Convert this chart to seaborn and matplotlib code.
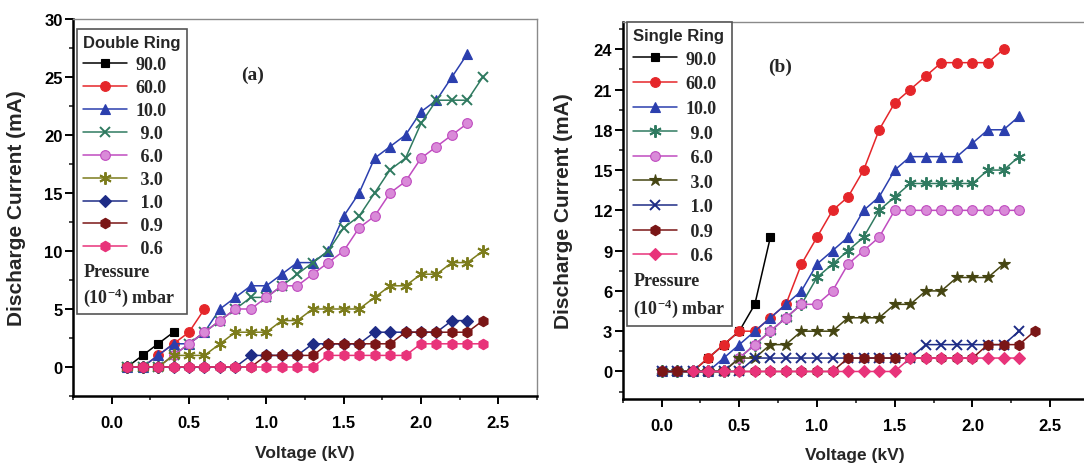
import matplotlib
matplotlib.use("Agg")
import matplotlib.pyplot as plt
import seaborn as sns
from matplotlib.lines import Line2D
from matplotlib.ticker import MultipleLocator

# ---------------- data: panel (a) Double Ring ----------------
A_V90 = [0.1, 0.2, 0.3, 0.4]
A_I90 = [0, 1, 2, 3]
A_V60 = [0.1, 0.2, 0.3, 0.4, 0.5, 0.6]
A_I60 = [0, 0, 1, 2, 3, 5]
A_V10 = [0.1, 0.2, 0.3, 0.4, 0.5, 0.6, 0.7, 0.8, 0.9, 1.0, 1.1, 1.2, 1.3, 1.4, 1.5, 1.6, 1.7, 1.8, 1.9, 2.0, 2.1, 2.2, 2.3]
A_I10 = [0, 0, 1, 2, 2, 3, 5, 6, 7, 7, 8, 9, 9, 10, 13, 15, 18, 19, 20, 22, 23, 25, 27]
A_V9 = [0.1, 0.2, 0.3, 0.4, 0.5, 0.6, 0.7, 0.8, 0.9, 1.0, 1.1, 1.2, 1.3, 1.4, 1.5, 1.6, 1.7, 1.8, 1.9, 2.0, 2.1, 2.2, 2.3, 2.4]
A_I9 = [0, 0, 0, 1, 2, 3, 4, 5, 6, 6, 7, 8, 9, 10, 12, 13, 15, 17, 18, 21, 23, 23, 23, 25]
A_V6 = [0.1, 0.2, 0.3, 0.4, 0.5, 0.6, 0.7, 0.8, 0.9, 1.0, 1.1, 1.2, 1.3, 1.4, 1.5, 1.6, 1.7, 1.8, 1.9, 2.0, 2.1, 2.2, 2.3]
A_I6 = [0, 0, 0, 1, 2, 3, 4, 5, 5, 6, 7, 7, 8, 9, 10, 12, 13, 15, 16, 18, 19, 20, 21]
A_V3 = [0.1, 0.2, 0.3, 0.4, 0.5, 0.6, 0.7, 0.8, 0.9, 1.0, 1.1, 1.2, 1.3, 1.4, 1.5, 1.6, 1.7, 1.8, 1.9, 2.0, 2.1, 2.2, 2.3, 2.4]
A_I3 = [0, 0, 0, 1, 1, 1, 2, 3, 3, 3, 4, 4, 5, 5, 5, 5, 6, 7, 7, 8, 8, 9, 9, 10]
A_V1 = [0.1, 0.2, 0.3, 0.4, 0.5, 0.6, 0.7, 0.8, 0.9, 1.0, 1.1, 1.2, 1.3, 1.4, 1.5, 1.6, 1.7, 1.8, 1.9, 2.0, 2.1, 2.2, 2.3]
A_I1 = [0, 0, 0, 0, 0, 0, 0, 0, 1, 1, 1, 1, 2, 2, 2, 2, 3, 3, 3, 3, 3, 4, 4]
A_V09 = [0.1, 0.2, 0.3, 0.4, 0.5, 0.6, 0.7, 0.8, 0.9, 1.0, 1.1, 1.2, 1.3, 1.4, 1.5, 1.6, 1.7, 1.8, 1.9, 2.0, 2.1, 2.2, 2.3, 2.4]
A_I09 = [0, 0, 0, 0, 0, 0, 0, 0, 0, 1, 1, 1, 1, 2, 2, 2, 2, 2, 3, 3, 3, 3, 3, 4]
A_V06 = [0.1, 0.2, 0.3, 0.4, 0.5, 0.6, 0.7, 0.8, 0.9, 1.0, 1.1, 1.2, 1.3, 1.4, 1.5, 1.6, 1.7, 1.8, 1.9, 2.0, 2.1, 2.2, 2.3, 2.4]
A_I06 = [0, 0, 0, 0, 0, 0, 0, 0, 0, 0, 0, 0, 0, 1, 1, 1, 1, 1, 1, 2, 2, 2, 2, 2]

# ---------------- data: panel (b) Single Ring ----------------
B_V90 = [0.0, 0.1, 0.2, 0.3, 0.4, 0.5, 0.6, 0.7]
B_I90 = [0, 0, 0, 1, 2, 3, 5, 10]
B_V60 = [0.0, 0.1, 0.2, 0.3, 0.4, 0.5, 0.6, 0.7, 0.8, 0.9, 1.0, 1.1, 1.2, 1.3, 1.4, 1.5, 1.6, 1.7, 1.8, 1.9, 2.0, 2.1, 2.2]
B_I60 = [0, 0, 0, 1, 2, 3, 3, 4, 5, 8, 10, 12, 13, 15, 18, 20, 21, 22, 23, 23, 23, 23, 24]
B_V10 = [0.0, 0.1, 0.2, 0.3, 0.4, 0.5, 0.6, 0.7, 0.8, 0.9, 1.0, 1.1, 1.2, 1.3, 1.4, 1.5, 1.6, 1.7, 1.8, 1.9, 2.0, 2.1, 2.2, 2.3]
B_I10 = [0, 0, 0, 0, 1, 2, 3, 4, 5, 6, 8, 9, 10, 12, 13, 15, 16, 16, 16, 16, 17, 18, 18, 19]
B_V9 = [0.0, 0.1, 0.2, 0.3, 0.4, 0.5, 0.6, 0.7, 0.8, 0.9, 1.0, 1.1, 1.2, 1.3, 1.4, 1.5, 1.6, 1.7, 1.8, 1.9, 2.0, 2.1, 2.2, 2.3]
B_I9 = [0, 0, 0, 0, 0, 1, 2, 3, 4, 5, 7, 8, 9, 10, 12, 13, 14, 14, 14, 14, 14, 15, 15, 16]
B_V6 = [0.0, 0.1, 0.2, 0.3, 0.4, 0.5, 0.6, 0.7, 0.8, 0.9, 1.0, 1.1, 1.2, 1.3, 1.4, 1.5, 1.6, 1.7, 1.8, 1.9, 2.0, 2.1, 2.2, 2.3]
B_I6 = [0, 0, 0, 0, 0, 1, 2, 3, 4, 5, 5, 6, 8, 9, 10, 12, 12, 12, 12, 12, 12, 12, 12, 12]
B_V3 = [0.0, 0.1, 0.2, 0.3, 0.4, 0.5, 0.6, 0.7, 0.8, 0.9, 1.0, 1.1, 1.2, 1.3, 1.4, 1.5, 1.6, 1.7, 1.8, 1.9, 2.0, 2.1, 2.2]
B_I3 = [0, 0, 0, 0, 0, 1, 1, 2, 2, 3, 3, 3, 4, 4, 4, 5, 5, 6, 6, 7, 7, 7, 8]
B_V1 = [0.0, 0.1, 0.2, 0.3, 0.4, 0.5, 0.6, 0.7, 0.8, 0.9, 1.0, 1.1, 1.2, 1.3, 1.4, 1.5, 1.6, 1.7, 1.8, 1.9, 2.0, 2.1, 2.2, 2.3]
B_I1 = [0, 0, 0, 0, 0, 0, 1, 1, 1, 1, 1, 1, 1, 1, 1, 1, 1, 2, 2, 2, 2, 2, 2, 3]
B_V09 = [0.0, 0.1, 0.2, 0.3, 0.4, 0.5, 0.6, 0.7, 0.8, 0.9, 1.0, 1.1, 1.2, 1.3, 1.4, 1.5, 1.6, 1.7, 1.8, 1.9, 2.0, 2.1, 2.2, 2.3, 2.4]
B_I09 = [0, 0, 0, 0, 0, 0, 0, 0, 0, 0, 0, 0, 1, 1, 1, 1, 1, 1, 1, 1, 1, 2, 2, 2, 3]
B_V06 = [0.2, 0.3, 0.4, 0.5, 0.6, 0.7, 0.8, 0.9, 1.0, 1.1, 1.2, 1.3, 1.4, 1.5, 1.6, 1.7, 1.8, 1.9, 2.0, 2.1, 2.2, 2.3]
B_I06 = [0, 0, 0, 0, 0, 0, 0, 0, 0, 0, 0, 0, 0, 0, 1, 1, 1, 1, 1, 1, 1, 1]

PRESSURE_LABELS = ["90.0", "60.0", "10.0", " 9.0", " 6.0", " 3.0", " 1.0", " 0.9", " 0.6"]
X_TICKS = [0.0, 0.5, 1.0, 1.5, 2.0, 2.5]
A_Y_TICKS = [0, 5, 10, 15, 20, 25, 30]
B_Y_TICKS = [0, 3, 6, 9, 12, 15, 18, 21, 24]

# ---------------- style ----------------
sns.set_theme(style="ticks")
plt.rcParams.update({
    "font.family": ["Liberation Sans", "DejaVu Sans"],
    "font.weight": "bold",
    "axes.labelweight": "bold",
    "mathtext.default": "regular",
    "axes.facecolor": "white",
    "figure.facecolor": "white",
})

C_BLACK = "#000000"
C_RED = "#e5262a"
C_BLUE = "#2b3fae"
C_TEAL = "#2f7a60"
C_MAG = "#c04cc0"
C_MAG_FACE = "#d98ad8"
C_OLIVE = "#7c7c1c"
C_DOLIVE = "#454512"
C_NAVY = "#1e2c86"
C_DRED = "#7a1616"
C_PINK = "#e8337a"

AST = (6, 2, 0)

specs_a = [
    (A_V90, A_I90, C_BLACK, "s", C_BLACK, 6),
    (A_V60, A_I60, C_RED, "o", C_RED, 7),
    (A_V10, A_I10, C_BLUE, "^", C_BLUE, 7.5),
    (A_V9, A_I9, C_TEAL, "x", C_TEAL, 7.5),
    (A_V6, A_I6, C_MAG, "o", C_MAG_FACE, 7),
    (A_V3, A_I3, C_OLIVE, AST, C_OLIVE, 9),
    (A_V1, A_I1, C_NAVY, "D", C_NAVY, 6),
    (A_V09, A_I09, C_DRED, "h", C_DRED, 7.5),
    (A_V06, A_I06, C_PINK, "h", C_PINK, 7.5),
]
specs_b = [
    (B_V90, B_I90, C_BLACK, "s", C_BLACK, 6),
    (B_V60, B_I60, C_RED, "o", C_RED, 7),
    (B_V10, B_I10, C_BLUE, "^", C_BLUE, 7.5),
    (B_V9, B_I9, C_TEAL, AST, C_TEAL, 9),
    (B_V6, B_I6, C_MAG, "o", C_MAG_FACE, 7),
    (B_V3, B_I3, C_DOLIVE, "*", C_DOLIVE, 9),
    (B_V1, B_I1, C_NAVY, "x", C_NAVY, 7.5),
    (B_V09, B_I09, C_DRED, "h", C_DRED, 7.5),
    (B_V06, B_I06, C_PINK, "D", C_PINK, 6),
]

fig = plt.figure(figsize=(10.84, 4.64), dpi=100)
axA = fig.add_axes([73 / 1084, 1 - 397 / 464, 464 / 1084, 377 / 464])
axB = fig.add_axes([622.7 / 1084, 1 - 400 / 464, 466.3 / 1084, 377.3 / 464])

SERIF = ["Liberation Serif", "DejaVu Serif"]
SANS = ["Liberation Sans", "DejaVu Sans"]


def draw_panel(ax, specs, title, tag, ylim, yticks, yminor, leg_anchor, tag_pos, lspace, bpad):
    handles = []
    for (V, I, c, m, mfc, ms) in specs:
        mew = 1.4 if m in ("x", AST) else 0.8
        sns.lineplot(x=V, y=I, ax=ax, color=c, marker=m, markersize=ms,
                     markerfacecolor=mfc, markeredgecolor=c, markeredgewidth=mew,
                     linewidth=1.1, legend=False, estimator=None, sort=False)
        handles.append(Line2D([], [], color=c, marker=m, markersize=ms,
                              markerfacecolor=mfc, markeredgecolor=c,
                              markeredgewidth=mew, linewidth=1.1))
    labels = list(PRESSURE_LABELS)
    handles += [Line2D([], [], linestyle="none"), Line2D([], [], linestyle="none")]
    labels += ["Pressure", "(10$^{-4}$) mbar"]

    ax.set_xlim(-0.25, 2.75)
    ax.set_ylim(*ylim)
    ax.set_xticks(X_TICKS)
    ax.set_yticks(yticks)
    ax.xaxis.set_minor_locator(MultipleLocator(0.25))
    ax.yaxis.set_minor_locator(MultipleLocator(yminor))
    ax.tick_params(which="major", direction="out", length=5.5, width=1.4,
                   labelsize=12, colors="black")
    ax.tick_params(which="minor", direction="out", length=3, width=1.2)
    ax.tick_params(axis="x", which="major", pad=8)
    ax.tick_params(axis="y", which="major", pad=2)
    for lab in ax.get_xticklabels() + ax.get_yticklabels():
        lab.set_fontweight("bold")
    for s in ("left", "bottom"):
        ax.spines[s].set_linewidth(1.8)
        ax.spines[s].set_color("black")
    for s in ("top", "right"):
        ax.spines[s].set_linewidth(1.0)
        ax.spines[s].set_color("#8a8a8a")
    ax.grid(False)

    ax.set_xlabel("Voltage (kV)", fontsize=12.5, fontweight="bold")
    ax.set_ylabel("Discharge Current (mA)", fontsize=15, fontweight="bold")

    leg = ax.legend(handles, labels, title=title, loc="upper left",
                    bbox_to_anchor=leg_anchor, borderaxespad=0,
                    prop={"family": SERIF, "weight": "bold", "size": 13},
                    title_fontproperties={"family": SANS, "weight": "bold", "size": 12},
                    alignment="left", frameon=True, fancybox=False,
                    framealpha=1, edgecolor="#555555", handlelength=2.4,
                    handletextpad=0.5, labelspacing=lspace, borderpad=bpad)
    leg.get_frame().set_linewidth(1.2)
    items = leg._legend_handle_box.get_children()[0].get_children()
    for hp in items[-2:]:
        hp.get_children()[0].width = 0
        hp.sep = 0

    ax.text(tag_pos[0], tag_pos[1], tag, transform=ax.transAxes, ha="center",
            va="center", fontsize=14, fontweight="bold", family=SERIF)


draw_panel(axA, specs_a, "Double Ring", "(a)", (-2.5, 30), A_Y_TICKS, 2.5,
           (0.0093, 0.9735), (0.388, 0.854), 0.33, 0.34)
draw_panel(axB, specs_b, "Single Ring", "(b)", (-2.05, 26.05), B_Y_TICKS, 1.5,
           (0.0086, 1.0), (0.337, 0.883), 0.42, 0.36)

for ax, xl, yl in ((axA, (0.50, -0.149), -0.121), (axB, (0.498, -0.146), -0.128)):
    ax.xaxis.set_label_coords(*xl)
    ax.xaxis.label.set_va("center")
    ax.yaxis.set_label_coords(yl, 0.5)
    ax.yaxis.label.set_va("center")

fig.savefig("out.png", dpi=100)
